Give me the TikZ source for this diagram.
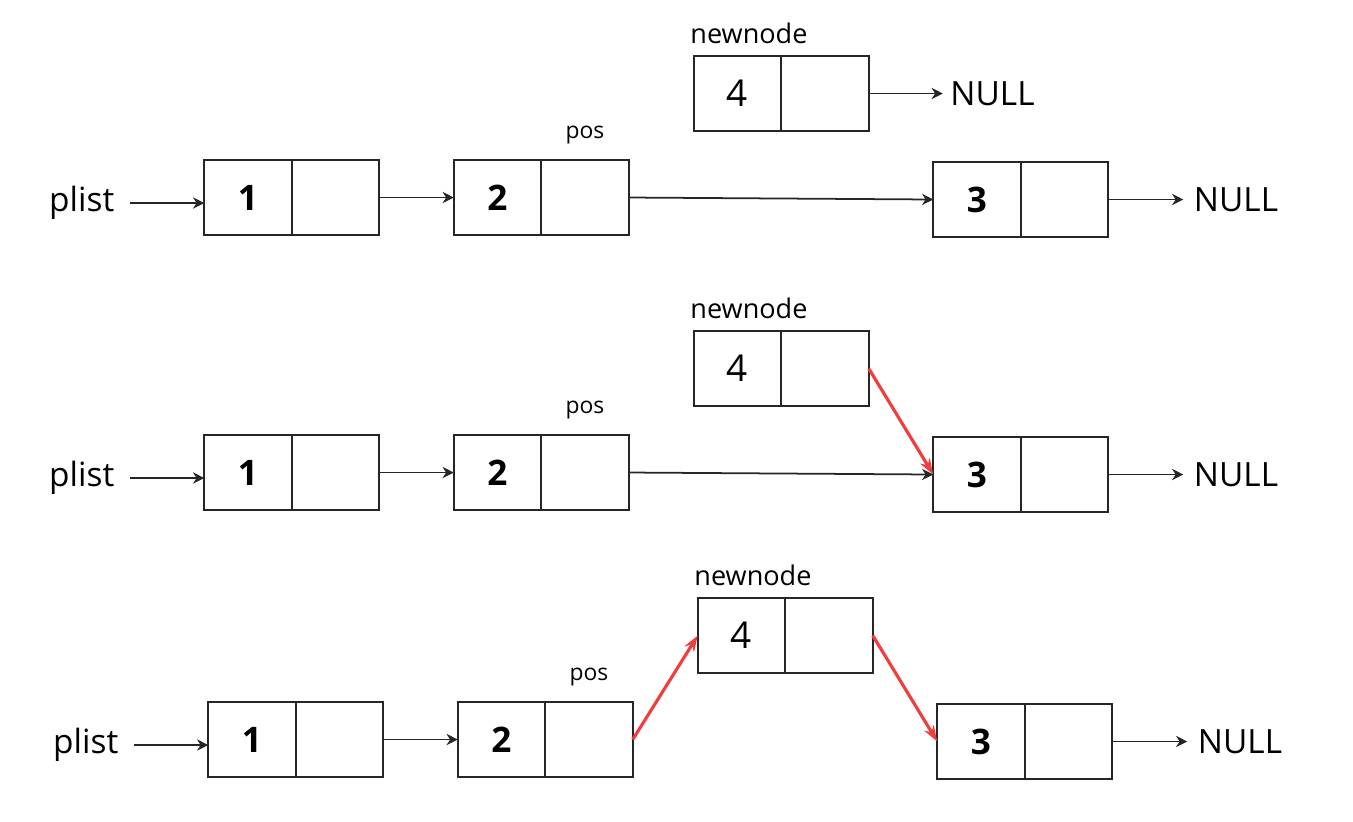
\documentclass[tikz,border=0pt]{standalone}
\usepackage{fontspec}
\setmainfont{Open Sans}
\usetikzlibrary{positioning,arrows.meta}

\definecolor{linkred}{RGB}{240,62,62}

\tikzset{
	cell/.style={draw=black!85, line width=0.6pt, minimum width=8.75mm, minimum height=7.5mm, inner sep=0pt, outer sep=0pt},
	val/.style={cell, font=\bfseries\fontsize{10}{12}\selectfont},
	data/.style={cell, font=\fontsize{10.5}{12}\selectfont},
	txt/.style={inner sep=0pt, font=\fontsize{9.5}{11}\selectfont},
	lbl/.style={inner sep=0pt, font=\fontsize{7.7}{9}\selectfont},
	poslbl/.style={inner sep=0pt, font=\fontsize{6.5}{8}\selectfont},
	link/.style={-{Stealth[length=3.2pt,width=3.2pt]}, black!85, line width=0.5pt},
	newlink/.style={-{Stealth[length=1.6mm,width=1.1mm]}, linkred, line width=0.9pt}
}

\begin{document}
\begin{tikzpicture}[x=0.1mm, y=-0.1mm]
	\useasboundingbox (0,0) rectangle (1353,821);
	%three rows, same cells
	\foreach \r/\dx/\dy in {a/0/0, b/0/275, c/4/542} {
		%cells
		\node[val] (\r1) at (248+\dx,197.5+\dy) {1};
		\node[cell, right=0pt of \r1] (\r1p) {};
		\node[val] (\r2) at (497.5+\dx,197.5+\dy) {2};
		\node[cell, right=0pt of \r2] (\r2p) {};
		\node[val] (\r3) at (977+\dx,199.5+\dy) {3};
		\node[cell, right=0pt of \r3] (\r3p) {};
		\node[data] (\r4) at (737.5+\dx,93.5+\dy) {4};
		\node[cell, right=0pt of \r4] (\r4p) {};
		%labels
		\node[txt, anchor=east] (\r0) at (115+\dx,203+\dy) {plist};
		\node[lbl, anchor=base west] (\r4l) at ([xshift=-0.4mm, yshift=1.3mm]\r4.north west) {newnode};
		\node[poslbl, anchor=base] (\r2l) at ([yshift=2.2mm]\r2p.north) {pos};
		\node[txt, right=8.5mm of \r3p] (\r5) {NULL};
		%links
		\draw[link, shorten <=1.5mm] (\r0.east) -- (\r0.east -| \r1.west);
		\draw[link] (\r1p.east) -- (\r2.west);
		\draw[link, shorten >=1mm] (\r3p.east) -- (\r5.west);
	}
	%first row
	\node[txt, right=8.1mm of a4p] (a6) {NULL};
	\draw[link, shorten >=0.7mm] (a4p.east) -- (a6.west);
	\draw[link] (a2p.east) -- (a3.west);
	%second row
	\draw[link] (b2p.east) -- (b3.west);
	\draw[newlink] (b4p.east) -- (b3.west);
	%third row
	\draw[newlink] (c2p.east) -- (c4.west);
	\draw[newlink] (c4p.east) -- (c3.west);
\end{tikzpicture}
\end{document}
